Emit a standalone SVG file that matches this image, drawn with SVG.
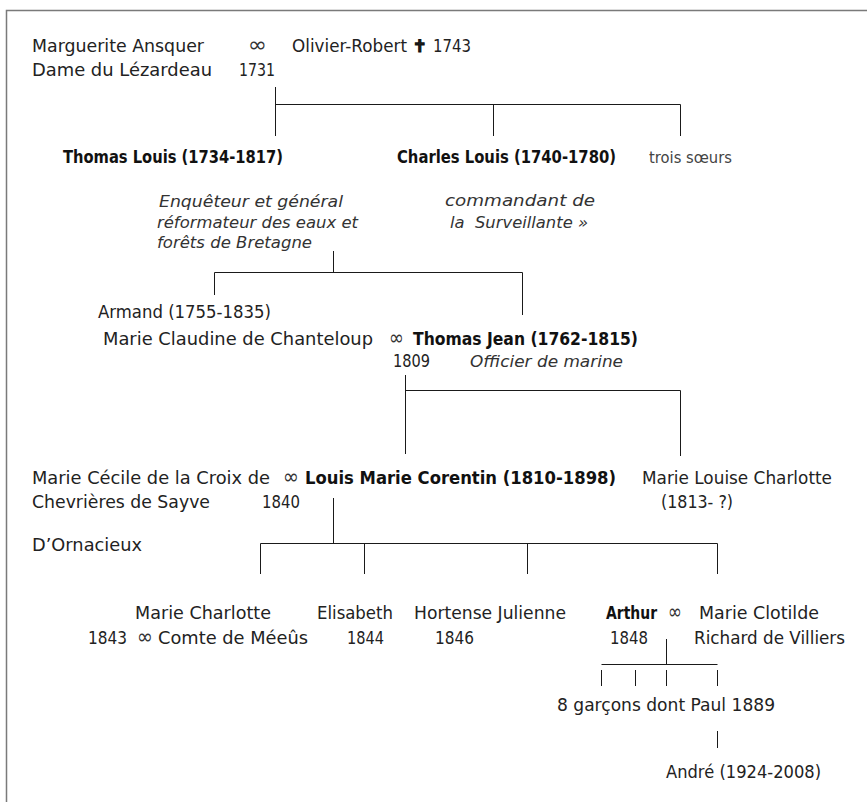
<svg xmlns="http://www.w3.org/2000/svg" width="867" height="802" viewBox="0 0 867 802">
<style>
text{font-family:"DejaVu Sans","Liberation Sans",sans-serif;font-size:17px;fill:#222}
.b{font-weight:bold;font-size:17px;fill:#111}
.bl{font-weight:bold;font-size:17.5px;fill:#111}
.i{font-style:italic;font-size:16.5px;fill:#333}
.s{font-size:15px;fill:#444}
.inf{font-family:"DejaVu Sans",sans-serif;font-size:22px;fill:#333}
.lines path{stroke:#1a1a1a;stroke-width:1;fill:none}
</style>
<rect width="867" height="802" fill="#fff"/>
<path d="M6.5 802 V10.5 H867" stroke="#7a7a7a" stroke-width="1.5" fill="none"/>

<g id="connectors" class="lines">
<path d="M275.5 87 V136 M275.5 104.5 H680.5 M493.5 104.5 V136 M680.5 104.5 V136"/>
<path d="M333.5 251 V272.5 M214.5 272.5 H522.5 M214.5 272.5 V295 M522.5 272.5 V315"/>
<path d="M405.5 375 V454 M405.5 390.5 H680.5 M680.5 390.5 V456"/>
<path d="M333.5 498 V543.5 M260.5 543.5 H717.5 M260.5 543.5 V574 M364.5 543.5 V574 M527.5 543.5 V574 M717.5 543.5 V574"/>
<path d="M666.5 639 V664.5 M601.5 664.5 H717.5 M601.5 670 V686 M635.5 670 V686 M666.5 670 V686 M717.5 670 V686"/>
<path d="M717.5 731 V748"/>
</g>

<g id="marguerite">
<text x="32" y="52" textLength="172" lengthAdjust="spacingAndGlyphs">Marguerite Ansquer</text>
<text x="32" y="76" textLength="180" lengthAdjust="spacingAndGlyphs">Dame du Lézardeau</text>
</g>
<g id="mariage1">
<text class="inf" x="248" y="52" textLength="19" lengthAdjust="spacingAndGlyphs">∞</text>
<text x="239" y="76" textLength="36" lengthAdjust="spacingAndGlyphs">1731</text>
</g>
<g id="olivier">
<text x="292" y="52" textLength="115" lengthAdjust="spacingAndGlyphs">Olivier-Robert</text>
<text x="419.5" y="52" text-anchor="middle" font-weight="bold" font-size="19" stroke="#111" stroke-width="1.2" fill="#111">✝</text>
<text x="433" y="52" textLength="38" lengthAdjust="spacingAndGlyphs">1743</text>
</g>

<g id="thomas-louis">
<text class="b" x="63" y="163" textLength="220" lengthAdjust="spacingAndGlyphs">Thomas Louis (1734-1817)</text>
<text class="i" x="159" y="207" textLength="184" lengthAdjust="spacingAndGlyphs">Enquêteur et général</text>
<text class="i" x="157" y="228" textLength="201" lengthAdjust="spacingAndGlyphs">réformateur des eaux et</text>
<text class="i" x="157" y="248" textLength="155" lengthAdjust="spacingAndGlyphs">forêts de Bretagne</text>
</g>
<g id="charles-louis">
<text class="b" x="397" y="163" textLength="219" lengthAdjust="spacingAndGlyphs">Charles Louis (1740-1780)</text>
<text class="i" x="445" y="206" textLength="150" lengthAdjust="spacingAndGlyphs">commandant de</text>
<text class="i" x="450" y="228" textLength="138" lengthAdjust="spacingAndGlyphs" xml:space="preserve">la  Surveillante »</text>
</g>
<g id="soeurs">
<text class="s" x="649" y="163" textLength="83" lengthAdjust="spacingAndGlyphs">trois sœurs</text>
</g>

<g id="armand">
<text x="98" y="318" textLength="173" lengthAdjust="spacingAndGlyphs">Armand (1755-1835)</text>
</g>
<g id="marie-claudine">
<text x="103" y="345" textLength="270" lengthAdjust="spacingAndGlyphs">Marie Claudine de Chanteloup</text>
</g>
<g id="mariage2">
<text class="inf" x="389" y="345" textLength="15" lengthAdjust="spacingAndGlyphs">∞</text>
<text x="393" y="367" textLength="37" lengthAdjust="spacingAndGlyphs">1809</text>
</g>
<g id="thomas-jean">
<text class="b" x="413" y="345" textLength="225" lengthAdjust="spacingAndGlyphs">Thomas Jean (1762-1815)</text>
<text class="i" x="470" y="367" textLength="153" lengthAdjust="spacingAndGlyphs">Officier de marine</text>
</g>

<g id="marie-cecile">
<text x="32" y="484" textLength="238" lengthAdjust="spacingAndGlyphs">Marie Cécile de la Croix de</text>
<text x="32" y="508" textLength="178" lengthAdjust="spacingAndGlyphs">Chevrières de Sayve</text>
<text x="32" y="551" textLength="110" lengthAdjust="spacingAndGlyphs">D’Ornacieux</text>
</g>
<g id="mariage3">
<text class="inf" x="283" y="484" textLength="16" lengthAdjust="spacingAndGlyphs">∞</text>
<text x="262" y="508" textLength="38" lengthAdjust="spacingAndGlyphs">1840</text>
</g>
<g id="louis-marie">
<text class="bl" x="305" y="484" textLength="311" lengthAdjust="spacingAndGlyphs">Louis Marie Corentin (1810-1898)</text>
</g>
<g id="marie-louise">
<text x="642" y="484" textLength="190" lengthAdjust="spacingAndGlyphs">Marie Louise Charlotte</text>
<text x="661" y="508" textLength="72" lengthAdjust="spacingAndGlyphs">(1813- ?)</text>
</g>

<g id="marie-charlotte">
<text x="135" y="619" textLength="136" lengthAdjust="spacingAndGlyphs">Marie Charlotte</text>
<text x="88" y="644" textLength="39" lengthAdjust="spacingAndGlyphs">1843</text>
<text class="inf" x="137" y="644" textLength="16" lengthAdjust="spacingAndGlyphs">∞</text>
<text x="158" y="644" textLength="150" lengthAdjust="spacingAndGlyphs">Comte de Méeûs</text>
</g>
<g id="elisabeth">
<text x="317" y="619" textLength="76" lengthAdjust="spacingAndGlyphs">Elisabeth</text>
<text x="347" y="644" textLength="37" lengthAdjust="spacingAndGlyphs">1844</text>
</g>
<g id="hortense">
<text x="414" y="619" textLength="152" lengthAdjust="spacingAndGlyphs">Hortense Julienne</text>
<text x="435" y="644" textLength="39" lengthAdjust="spacingAndGlyphs">1846</text>
</g>
<g id="arthur">
<text class="b" x="606" y="619" textLength="51" lengthAdjust="spacingAndGlyphs">Arthur</text>
<text x="610" y="644" textLength="38" lengthAdjust="spacingAndGlyphs">1848</text>
</g>
<g id="mariage4">
<text class="inf" x="668" y="619" textLength="14" lengthAdjust="spacingAndGlyphs">∞</text>
</g>
<g id="marie-clotilde">
<text x="699" y="619" textLength="120" lengthAdjust="spacingAndGlyphs">Marie Clotilde</text>
<text x="694" y="644" textLength="151" lengthAdjust="spacingAndGlyphs">Richard de Villiers</text>
</g>
<g id="garcons">
<text x="557" y="711" textLength="218" lengthAdjust="spacingAndGlyphs">8 garçons dont Paul 1889</text>
</g>
<g id="andre">
<text x="666" y="778" textLength="155" lengthAdjust="spacingAndGlyphs">André (1924-2008)</text>
</g>
</svg>
